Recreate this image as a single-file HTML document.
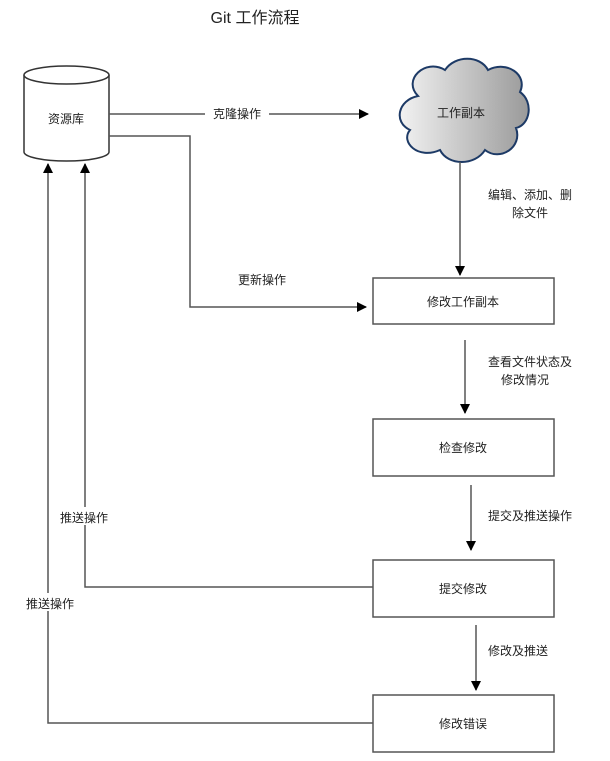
<!DOCTYPE html>
<html><head><meta charset="utf-8"><style>
body{margin:0;background:#fff;width:610px;height:756px;overflow:hidden}
text{font-family:"Liberation Sans","Noto Sans CJK SC",sans-serif;fill:#222}
</style></head><body>
<svg width="610" height="756" xmlns="http://www.w3.org/2000/svg">
<defs>
<marker id="a" markerWidth="10" markerHeight="10" refX="9" refY="5" orient="auto" markerUnits="userSpaceOnUse"><path d="M0,0 L10,5 L0,10 z" fill="#000"/></marker>
<linearGradient id="g" x1="0" x2="1"><stop offset="0" stop-color="#f2f2f2"/><stop offset="1" stop-color="#9a9a9a"/></linearGradient>
</defs>
<text x="255" y="23" font-size="16" text-anchor="middle">Git 工作流程</text>
<!-- cylinder -->
<path d="M24,75 L24,152 A42.5,9 0 0 0 109,152 L109,75" fill="#fff" stroke="#333" stroke-width="1.5"/>
<ellipse cx="66.5" cy="75" rx="42.5" ry="9" fill="#fff" stroke="#333" stroke-width="1.5"/>
<text x="66" y="123" font-size="12" text-anchor="middle">资源库</text>
<!-- cloud -->
<path d="M418,96 C402,80 425,58 445,70 C455,55 480,55 488,70 C507,60 528,75 520,92 C534,102 530,125 516,128 C523,147 500,162 485,150 C475,166 448,166 440,150 C418,160 400,142 410,130 C393,122 398,100 418,96 Z" fill="url(#g)" stroke="#1d3a66" stroke-width="2"/>
<text x="461" y="117" font-size="12" text-anchor="middle">工作副本</text>
<g fill="#fff" stroke="#555" stroke-width="1.5">
<rect x="373" y="278" width="181" height="46"/>
<rect x="373" y="419" width="181" height="57"/>
<rect x="373" y="560" width="181" height="57"/>
<rect x="373" y="695" width="181" height="57"/>
</g>
<g font-size="12" text-anchor="middle">
<text x="463" y="306">修改工作副本</text>
<text x="463" y="452">检查修改</text>
<text x="463" y="593">提交修改</text>
<text x="463" y="728">修改错误</text>
</g>
<g stroke="#555" stroke-width="1.5" fill="none">
<path d="M109,114 H368" marker-end="url(#a)"/>
<path d="M109,136 H190 V307 H366" marker-end="url(#a)"/>
<path d="M460,162 V275" marker-end="url(#a)"/>
<path d="M465,340 V413" marker-end="url(#a)"/>
<path d="M471,485 V550" marker-end="url(#a)"/>
<path d="M476,625 V690" marker-end="url(#a)"/>
<path d="M373,587 H85 V164" marker-end="url(#a)"/>
<path d="M373,723 H48 V164" marker-end="url(#a)"/>
</g>
<g font-size="12">
<rect x="205" y="104" width="64" height="18" fill="#fff"/>
<text x="237" y="118" text-anchor="middle">克隆操作</text>
<text x="262" y="284" text-anchor="middle">更新操作</text>
<text x="530" y="199" text-anchor="middle">编辑、添加、删</text>
<text x="530" y="217" text-anchor="middle">除文件</text>
<text x="530" y="366" text-anchor="middle">查看文件状态及</text>
<text x="525" y="384" text-anchor="middle">修改情况</text>
<text x="530" y="520" text-anchor="middle">提交及推送操作</text>
<text x="518" y="655" text-anchor="middle">修改及推送</text>
<rect x="52" y="507" width="64" height="18" fill="#fff"/>
<text x="84" y="522" text-anchor="middle">推送操作</text>
<rect x="18" y="593" width="64" height="18" fill="#fff"/>
<text x="50" y="608" text-anchor="middle">推送操作</text>
</g>
</svg>
</body></html>
